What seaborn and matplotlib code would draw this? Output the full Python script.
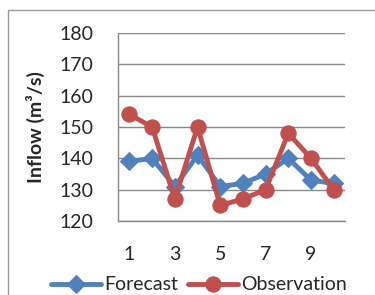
import matplotlib
matplotlib.use('Agg')
import matplotlib.pyplot as plt
from matplotlib.patches import Rectangle
import seaborn as sns
import pandas as pd

# data
steps = [1, 2, 3, 4, 5, 6, 7, 8, 9, 10]
forecast = [139, 140, 131, 141, 131, 132, 135, 140, 133, 132]
observation = [154, 150, 127, 150, 125, 127, 130, 148, 140, 130]
y_ticks = [120, 130, 140, 150, 160, 170, 180]
x_ticks = [1, 3, 5, 7, 9]

sns.set_style('white')
plt.rcParams['font.family'] = ['Lato', 'DejaVu Sans']

df = pd.DataFrame({'step': steps, 'Forecast': forecast, 'Observation': observation})

fig = plt.figure(figsize=(3.75, 2.95), dpi=100)
ax = fig.add_axes([0.315, 0.251, 0.605, 0.637])

blue = '#4F81BD'
red = '#C0504D'
sns.lineplot(data=df, x='step', y='Forecast', ax=ax, color=blue, linewidth=3.5,
             marker='D', markersize=9, markeredgecolor=blue, label='Forecast')
sns.lineplot(data=df, x='step', y='Observation', ax=ax, color=red, linewidth=3.5,
             marker='o', markersize=11, markeredgecolor=red, label='Observation')

ax.set_xlim(0.5, 10.5)
ax.set_ylim(120, 180)
ax.set_yticks(y_ticks)
ax.set_xticks(x_ticks)
ax.tick_params(axis='both', labelsize=14, length=0, pad=18)
ax.yaxis.grid(True, color='#888888', linewidth=1)
ax.set_axisbelow(True)
ax.set_xlabel('')
ax.set_ylabel('Inflow (m³/s)', fontsize=14, fontweight='bold', labelpad=10)
for s in ['top', 'right']:
    ax.spines[s].set_visible(False)
for s in ['left', 'bottom']:
    ax.spines[s].set_color('#888888')
    ax.spines[s].set_linewidth(1)

ax.legend(loc='center', bbox_to_anchor=(0.53, 0.034), bbox_transform=fig.transFigure,
          ncol=2, frameon=False, fontsize=14, handlelength=2.6, columnspacing=0.5,
          handletextpad=0.15, borderaxespad=0)

# outer chart frame
fig.patches.append(Rectangle((8 / 375, -0.2), 1.2, 1.2 - 10 / 295,
                             transform=fig.transFigure, fill=False,
                             edgecolor='#999999', linewidth=1))

fig.savefig('out.png', dpi=100)
